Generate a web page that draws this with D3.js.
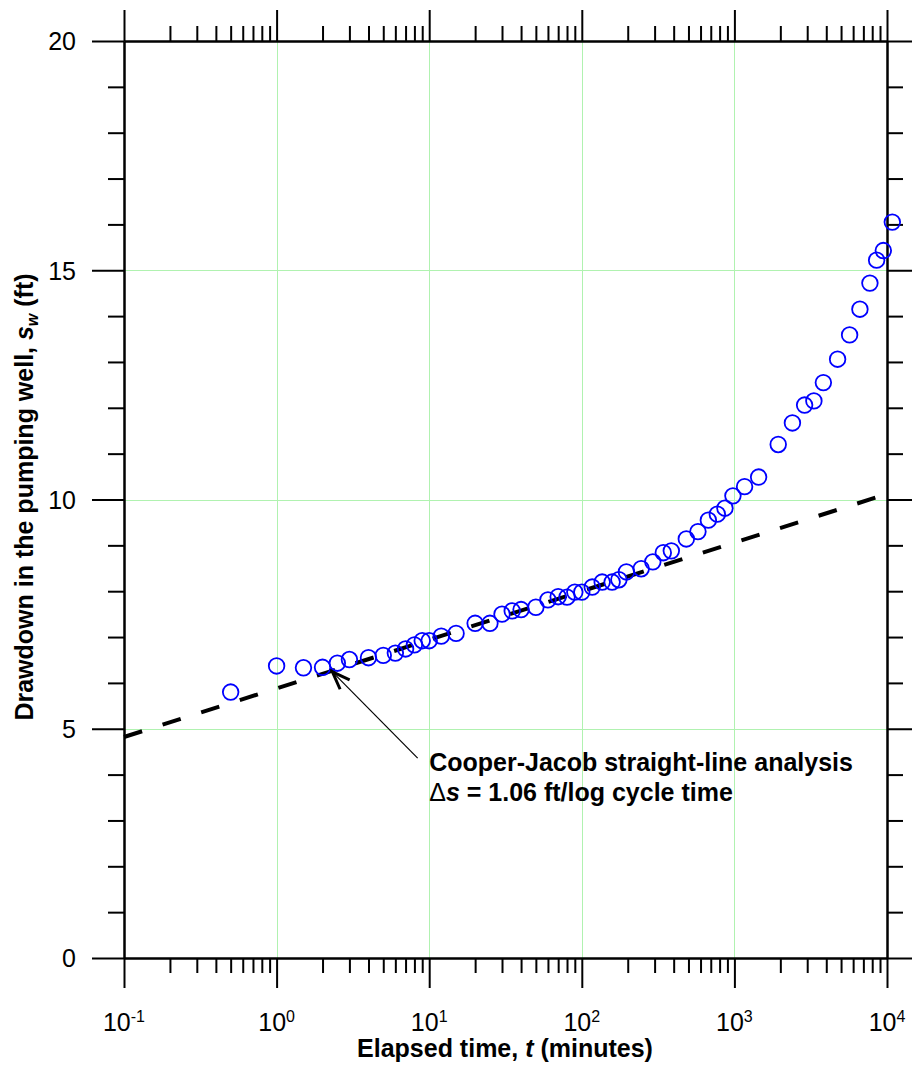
<!DOCTYPE html>
<html>
<head>
<meta charset="utf-8">
<script src="https://cdn.jsdelivr.net/npm/d3@7"></script>
<style>
  html, body { margin: 0; padding: 0; background: #fff; }
  svg { display: block; font-family: "Liberation Sans", Arial, sans-serif; }
  .axis path, .axis line { stroke: #000; stroke-width: 2; }
</style>
</head>
<body>
<svg id="chart" width="912" height="1066"></svg>
<script>
// Elapsed time since pumping started (minutes)
const timeMin = [
  0.5, 1, 1.5, 2, 2.5, 3, 4, 5, 6, 7, 8, 9, 10, 12, 15,
  20, 25, 30, 35, 40, 50, 60, 70, 80, 90, 100, 117, 136, 158, 175,
  196, 245, 292, 342, 386, 484, 577, 675, 773, 867, 978, 1166, 1441,
  1937, 2400, 2884, 3318, 3828, 4745, 5688, 6645, 7727, 8551, 9458, 10834
];
// Drawdown in the pumping well (ft)
const drawdownFt = [
  5.80, 6.37, 6.33, 6.34, 6.43, 6.51, 6.55, 6.60, 6.65, 6.74, 6.83, 6.92, 6.92, 7.02, 7.08,
  7.30, 7.30, 7.50, 7.57, 7.60, 7.65, 7.81, 7.88, 7.87, 7.98, 7.98, 8.09, 8.20, 8.20, 8.25,
  8.42, 8.49, 8.64, 8.84, 8.88, 9.14, 9.30, 9.55, 9.68, 9.81, 10.08, 10.28, 10.49,
  11.20, 11.67, 12.06, 12.15, 12.55, 13.06, 13.59, 14.15, 14.72, 15.22, 15.43, 16.05
];

// Cooper-Jacob straight line: s = intercept + slope * log10(t)
const cjIntercept = 5.88;
const cjSlope = 1.06;
const cjTimes = [0.1, 10000];

// Axis ticks
const xDecades = [0.1, 1, 10, 100, 1000, 10000];
const xDecadeExponents = ["-1", "0", "1", "2", "3", "4"];
const xGridTimes = [1, 10, 100, 1000];
const yMajor = [0, 5, 10, 15, 20];
const yMajorLabels = ["0", "5", "10", "15", "20"];
const yGrid = [5, 10, 15];

// Annotation anchor points (data coordinates)
const arrowTail = { t: 8.4, s: 4.36 };
const arrowTip = { t: 2.32, s: 6.24 };
const noteAt = { t: 10, s: 4.08 };

const svg = d3.select("#chart");
const x = d3.scaleLog().domain([0.1, 10000]).range([124, 887]);
const y = d3.scaleLinear().domain([0, 20]).range([958, 41]);

const xMinor = x.ticks().filter(v => !xDecades.some(d => Math.abs(d - v) / d < 1e-9));
const yMinor = d3.range(0, 21).filter(v => !yMajor.includes(v));

// Grid
const grid = svg.append("g").attr("stroke", "#b0f2b0").attr("stroke-width", 1);
grid.selectAll("line.v").data(xGridTimes).join("line")
  .attr("class", "v")
  .attr("x1", d => Math.round(x(d)) + 0.5).attr("x2", d => Math.round(x(d)) + 0.5)
  .attr("y1", y(20)).attr("y2", y(0));
grid.selectAll("line.h").data(yGrid).join("line")
  .attr("class", "h")
  .attr("y1", d => Math.round(y(d)) + 0.5).attr("y2", d => Math.round(y(d)) + 0.5)
  .attr("x1", x(0.1)).attr("x2", x(10000));

// Axes: major and minor ticks on all four sides, pointing outward
function addAxis(gen, transform, values, size) {
  const g = svg.append("g").attr("class", "axis").attr("transform", transform)
    .call(gen.tickValues(values).tickSize(size).tickSizeOuter(0).tickFormat(""));
  g.selectAll("text").remove();
  return g;
}
addAxis(d3.axisBottom(x), `translate(0,${y(0)})`, xMinor, 15);
addAxis(d3.axisBottom(x), `translate(0,${y(0)})`, xDecades, 30);
addAxis(d3.axisTop(x), `translate(0,${y(20)})`, xMinor, 15);
addAxis(d3.axisTop(x), `translate(0,${y(20)})`, xDecades, 31);
addAxis(d3.axisLeft(y), `translate(${x(0.1)},0)`, yMinor, 16);
addAxis(d3.axisLeft(y), `translate(${x(0.1)},0)`, yMajor, 32);
addAxis(d3.axisRight(y), `translate(${x(10000)},0)`, yMinor, 16);
addAxis(d3.axisRight(y), `translate(${x(10000)},0)`, yMajor, 32);

// Y tick labels
svg.append("g").selectAll("text").data(yMajor).join("text")
  .attr("x", 76).attr("y", d => y(d)).attr("dy", "0.37em")
  .attr("text-anchor", "end").attr("font-size", 25)
  .text((d, i) => yMajorLabels[i]);

// X tick labels as powers of ten
const xl = svg.append("g").selectAll("text").data(xDecades).join("text")
  .attr("x", d => x(d)).attr("y", 1031)
  .attr("text-anchor", "middle").attr("font-size", 25);
xl.append("tspan").text("10");
xl.append("tspan").attr("dy", -9).attr("font-size", 16).text((d, i) => xDecadeExponents[i]);

// Axis titles
const xt = svg.append("text").attr("x", 505).attr("y", 1057)
  .attr("text-anchor", "middle").attr("font-size", 25).attr("font-weight", "bold");
xt.append("tspan").text("Elapsed time, ");
xt.append("tspan").attr("font-style", "italic").text("t");
xt.append("tspan").text(" (minutes)");

const yt = svg.append("text").attr("transform", "translate(33,497) rotate(-90)")
  .attr("text-anchor", "middle").attr("font-size", 25).attr("font-weight", "bold");
yt.append("tspan").text("Drawdown in the pumping well, ");
yt.append("tspan").attr("font-style", "italic").text("s");
yt.append("tspan").attr("font-style", "italic").attr("font-size", 16).attr("dy", 5).text("w");
yt.append("tspan").attr("dy", -5).text(" (ft)");

// Cooper-Jacob fitted line
const line = d3.line().x(d => x(d)).y(d => y(cjIntercept + cjSlope * Math.log10(d)));
svg.append("path").datum(cjTimes)
  .attr("d", line)
  .attr("fill", "none").attr("stroke", "#000").attr("stroke-width", 4)
  .attr("stroke-dasharray", "19,21.5");

// Measured drawdown
const pts = timeMin.map((t, i) => ({ t, s: drawdownFt[i] }));
svg.append("g").selectAll("circle").data(pts).join("circle")
  .attr("cx", d => x(d.t)).attr("cy", d => y(d.s)).attr("r", 7.8)
  .attr("fill", "none").attr("stroke", "#0000ff").attr("stroke-width", 1.8);

// Annotation arrow
const tx = x(arrowTail.t), ty = y(arrowTail.s);
const hx = x(arrowTip.t), hy = y(arrowTip.s);
svg.append("line").attr("x1", tx).attr("y1", ty).attr("x2", hx).attr("y2", hy)
  .attr("stroke", "#000").attr("stroke-width", 1.2);
const ang = Math.atan2(ty - hy, tx - hx);
const wing = 19, spread = 0.36;
const w1 = [hx + wing * Math.cos(ang + spread), hy + wing * Math.sin(ang + spread)];
const w2 = [hx + wing * Math.cos(ang - spread), hy + wing * Math.sin(ang - spread)];
svg.append("path")
  .attr("d", `M${w1[0]},${w1[1]}L${hx},${hy}L${w2[0]},${w2[1]}`)
  .attr("fill", "none").attr("stroke", "#000").attr("stroke-width", 3)
  .attr("stroke-linejoin", "miter");

// Annotation text
const nx = x(noteAt.t), ny = y(noteAt.s);
svg.append("text").attr("x", nx).attr("y", ny)
  .attr("font-size", 25).attr("font-weight", "bold")
  .text("Cooper-Jacob straight-line analysis");
const n2 = svg.append("text").attr("x", nx).attr("y", ny + 30)
  .attr("font-size", 25);
n2.append("tspan").text("Δ");
n2.append("tspan").attr("font-weight", "bold").attr("font-style", "italic").text("s");
n2.append("tspan").attr("font-weight", "bold").text(" = 1.06 ft/log cycle time");
</script>
</body>
</html>
